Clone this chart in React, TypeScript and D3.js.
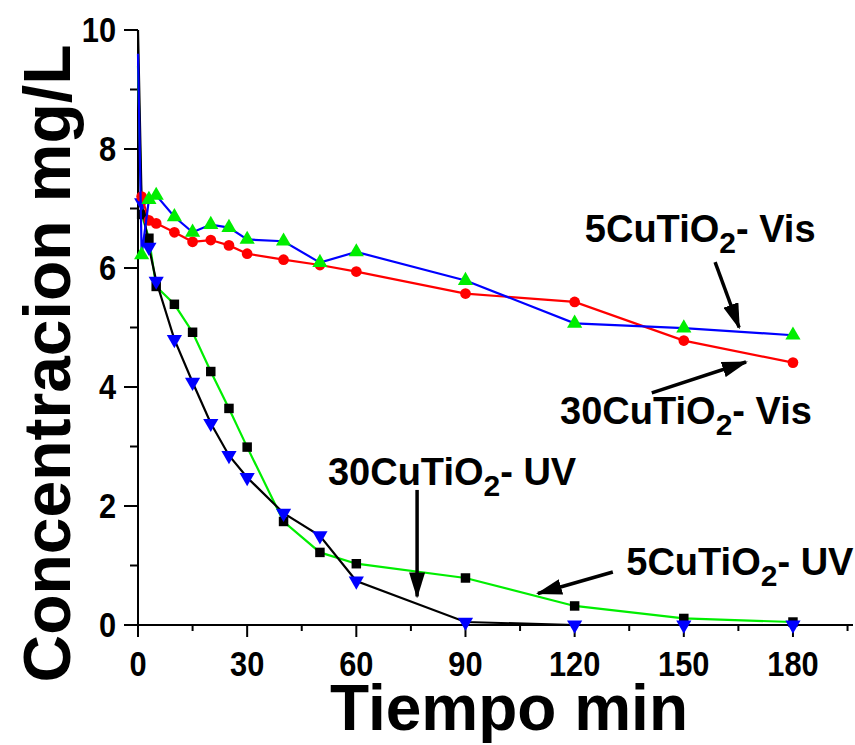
import * as d3 from "d3";
import { useEffect, useRef } from "react";

const times = [0, 1, 3, 5, 10, 15, 20, 25, 30, 40, 50, 60, 90, 120, 150, 180];
const uv5 = [9.4, 6.9, 6.5, 5.69, 5.39, 4.92, 4.26, 3.64, 2.99, 1.74, 1.22, 1.03, 0.79, 0.32, 0.11, 0.05];
const uv30 = [10, 7.1, 6.35, 5.78, 4.8, 4.08, 3.39, 2.85, 2.48, 1.88, 1.5, 0.74, 0.05, 0.0, 0.0, 0.0];
const vis30 = [7.25, 7.2, 6.8, 6.75, 6.6, 6.44, 6.47, 6.38, 6.24, 6.14, 6.05, 5.94, 5.57, 5.43, 4.78, 4.41];
const vis5 = [9.6, 6.22, 7.15, 7.22, 6.86, 6.6, 6.73, 6.68, 6.48, 6.45, 6.09, 6.27, 5.79, 5.07, 4.99, 4.87];

const xTicks = [0, 30, 60, 90, 120, 150, 180];
const yTicks = [0, 2, 4, 6, 8, 10];

// label text, label anchor (t, c), arrow from (t, c) to (t, c)
const notes = [
    { name: "5CuTiO", tail: "- Vis", at: [122.8, 6.44], from: [158.6, 6.1], to: [165.2, 5.0] },
    { name: "30CuTiO", tail: "- Vis", at: [116, 3.38], from: [141.2, 3.9], to: [167.1, 4.42] },
    { name: "30CuTiO", tail: "- UV", at: [52.2, 2.35], from: [76.7, 2.27], to: [76.7, 0.48] },
    { name: "5CuTiO", tail: "- UV", at: [134.2, 0.84], from: [130.5, 0.89], to: [109.9, 0.53] }
];

const FONT = "'Liberation Sans', Arial, sans-serif";
const GREEN = "#00ee00";

function Chart() {
    const ref = useRef<HTMLDivElement>(null);

    useEffect(() => {
        d3.select(ref.current).selectAll("*").remove();

        const width = 855;
        const height = 745;
        const left = 138;
        const right = 853;
        const top = 30;
        const bottom = 625;

        const x = d3.scaleLinear().domain([0, 196.5]).range([left, right]);
        const y = d3.scaleLinear().domain([0, 10]).range([bottom, top]);

        const svg = d3.select(ref.current)
            .append("svg")
            .attr("width", width)
            .attr("height", height)
            .style("position", "absolute")
            .style("left", 0)
            .style("top", 0)
            .style("background", "#fff")
            .style("font-family", FONT)
            .style("font-weight", "bold");

        svg.append("defs").append("marker")
            .attr("id", "head")
            .attr("markerUnits", "userSpaceOnUse")
            .attr("viewBox", "0 0 26 16")
            .attr("refX", 24)
            .attr("refY", 8)
            .attr("markerWidth", 26)
            .attr("markerHeight", 16)
            .attr("orient", "auto")
            .append("path")
            .attr("d", "M0,0 L26,8 L0,16 Z")
            .attr("fill", "#000");

        // axes
        const ax = svg.append("g");
        ax.append("line")
            .attr("x1", left).attr("x2", right)
            .attr("y1", bottom).attr("y2", bottom)
            .attr("stroke", "#000").attr("stroke-width", 2);
        ax.append("line")
            .attr("x1", left).attr("x2", left)
            .attr("y1", top).attr("y2", bottom)
            .attr("stroke", "#000").attr("stroke-width", 2);

        const xMinor = d3.range(15, 196, 30);
        ax.selectAll(".xt")
            .data(xTicks)
            .enter()
            .append("line")
            .attr("x1", d => x(d)).attr("x2", d => x(d))
            .attr("y1", bottom).attr("y2", bottom + 12)
            .attr("stroke", "#000").attr("stroke-width", 2);
        ax.selectAll(".xm")
            .data(xMinor)
            .enter()
            .append("line")
            .attr("x1", d => x(d)).attr("x2", d => x(d))
            .attr("y1", bottom).attr("y2", bottom + 6)
            .attr("stroke", "#000").attr("stroke-width", 2);
        ax.selectAll(".xl")
            .data(xTicks)
            .enter()
            .append("text")
            .attr("transform", d => `translate(${x(d)},${bottom + 51}) scale(0.88,1)`)
            .attr("text-anchor", "middle")
            .attr("font-size", 35)
            .text(d => d);

        ax.selectAll(".yt")
            .data(yTicks)
            .enter()
            .append("line")
            .attr("x1", left - 14).attr("x2", left)
            .attr("y1", d => y(d)).attr("y2", d => y(d))
            .attr("stroke", "#000").attr("stroke-width", 2);
        ax.selectAll(".ym")
            .data([1, 3, 5, 7, 9])
            .enter()
            .append("line")
            .attr("x1", left - 8).attr("x2", left)
            .attr("y1", d => y(d)).attr("y2", d => y(d))
            .attr("stroke", "#000").attr("stroke-width", 2);
        ax.selectAll(".yl")
            .data(yTicks)
            .enter()
            .append("text")
            .attr("transform", d => `translate(${left - 22},${y(d) + 12}) scale(0.88,1)`)
            .attr("text-anchor", "end")
            .attr("font-size", 35)
            .text(d => d);

        svg.append("text")
            .attr("x", 509)
            .attr("y", 730)
            .attr("text-anchor", "middle")
            .attr("font-size", 64)
            .text("Tiempo min");

        svg.append("text")
            .attr("transform", `translate(70,${(top + bottom) / 2 + 36}) rotate(-90)`)
            .attr("text-anchor", "middle")
            .attr("font-size", 66)
            .text("Concentracion mg/L");

        // series
        const series = [
            { values: uv5, line: GREEN, fill: "#000", shape: d3.symbolSquare, size: 90, rot: 0 },
            { values: uv30, line: "#000", fill: "#0000ff", shape: d3.symbolTriangle, size: 100, rot: 180 },
            { values: vis30, line: "#ff0000", fill: "#ff0000", shape: d3.symbolCircle, size: 90, rot: 0 },
            { values: vis5, line: "#0000ff", fill: GREEN, shape: d3.symbolTriangle, size: 100, rot: 0 }
        ];

        const line = d3.line<number>()
            .x((d, i) => x(times[i]))
            .y(d => y(d));

        series.forEach(s => {
            const g = svg.append("g");
            g.append("path")
                .attr("d", line(s.values))
                .attr("fill", "none")
                .attr("stroke", s.line)
                .attr("stroke-width", 2.2);
            g.selectAll("path.pt")
                .data(s.values.map((v, i) => [times[i], v]).filter(d => d[0] > 0))
                .enter()
                .append("path")
                .attr("class", "pt")
                .attr("d", d3.symbol().type(s.shape).size(s.size)())
                .attr("fill", s.fill)
                .attr("transform", d => `translate(${x(d[0])},${y(d[1])}) rotate(${s.rot})`);
        });

        // annotations
        const ann = svg.append("g");
        notes.forEach(n => {
            const t = ann.append("text")
                .attr("x", x(n.at[0]))
                .attr("y", y(n.at[1]))
                .attr("font-size", 38);
            t.append("tspan").text(n.name);
            t.append("tspan").attr("dy", 11).attr("font-size", 30).text("2");
            t.append("tspan").attr("dy", -11).text(n.tail);
            ann.append("line")
                .attr("x1", x(n.from[0])).attr("y1", y(n.from[1]))
                .attr("x2", x(n.to[0])).attr("y2", y(n.to[1]))
                .attr("stroke", "#000")
                .attr("stroke-width", 3.5)
                .attr("marker-end", "url(#head)");
        });
    }, []);

    return <div ref={ref}></div>;
}

export default function App() {
    return <Chart />;
}
